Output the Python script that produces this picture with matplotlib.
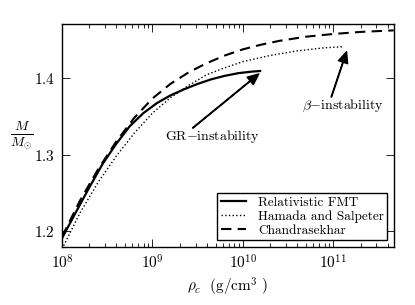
import matplotlib
matplotlib.use("Agg")
import matplotlib.pyplot as plt
from matplotlib.ticker import FixedLocator, NullLocator

plt.rcParams["font.family"] = "serif"
plt.rcParams["font.serif"] = ["cmr10", "DejaVu Serif"]
plt.rcParams["mathtext.fontset"] = "cm"
plt.rcParams["axes.formatter.use_mathtext"] = True
plt.rcParams["axes.unicode_minus"] = False

# ==========================================================
# DADOS
# ==========================================================
rho_fmt = [1.0e8, 1.41e8, 2.0e8, 2.82e8, 3.98e8, 5.62e8, 7.94e8, 1.12e9,
           1.58e9, 2.24e9, 3.16e9, 4.47e9, 6.31e9, 8.91e9, 1.26e10, 1.55e10]
m_fmt = [1.191, 1.224, 1.257, 1.288, 1.314, 1.337, 1.354, 1.367,
         1.377, 1.385, 1.392, 1.398, 1.4025, 1.406, 1.408, 1.4088]

rho_hs = [1.0e8, 1.58e8, 2.51e8, 3.98e8, 6.31e8, 1.0e9, 1.58e9, 2.51e9,
          3.98e9, 6.31e9, 1.0e10, 2.0e10, 3.98e10, 7.94e10, 1.32e11]
m_hs = [1.177, 1.224, 1.264, 1.298, 1.328, 1.354, 1.374, 1.390,
        1.404, 1.413, 1.421, 1.429, 1.435, 1.439, 1.4405]

rho_ch = [1.0e8, 1.58e8, 2.51e8, 3.98e8, 6.31e8, 1.0e9, 1.58e9, 2.51e9,
          3.98e9, 6.31e9, 1.0e10, 1.58e10, 2.51e10, 5.01e10, 1.0e11,
          2.0e11, 4.65e11]
m_ch = [1.193, 1.240, 1.281, 1.317, 1.348, 1.373, 1.392, 1.407,
        1.419, 1.429, 1.437, 1.443, 1.448, 1.4535, 1.457,
        1.4597, 1.4617]

labels = ["Relativistic FMT", "Hamada and Salpeter", "Chandrasekhar"]

gr_tip = (1.5e10, 1.405)
gr_tail = (2.79e9, 1.3346)
gr_text = (4.58e9, 1.3195)
beta_tip = (1.4e11, 1.434)
beta_tail = (9.5e10, 1.3749)
beta_text = (1.28e11, 1.3597)

# ==========================================================
# FIGURA
# ==========================================================
fig = plt.figure(figsize=(4.15, 3.05), dpi=100)
ax = fig.add_axes([0.1494, 0.1911, 0.7993, 0.7302])

ax.plot(rho_fmt, m_fmt, "k-", lw=1.6, label=labels[0])
ax.plot(rho_hs, m_hs, "k:", lw=1.0, label=labels[1])
ax.plot(rho_ch, m_ch, "k--", lw=1.5, dashes=(5, 3), label=labels[2])

ax.set_xscale("log")
ax.set_xlim(1e8, 4.65e11)
ax.set_ylim(1.18, 1.47)
ax.yaxis.set_major_locator(FixedLocator([1.2, 1.3, 1.4]))
ax.yaxis.set_minor_locator(NullLocator())

ax.tick_params(which="both", direction="in", top=True, right=True,
               labelsize=11, width=0.6)
ax.tick_params(which="major", length=6, pad=5)
ax.tick_params(which="minor", length=3)
for sp in ax.spines.values():
    sp.set_linewidth(1.0)

ax.set_xlabel(r"$\rho_c\ \ ({\rm g/cm^3}\ )$", fontsize=11, labelpad=3)
ax.set_ylabel(r"$\frac{M}{M_{\odot}}$", fontsize=14, rotation=0,
              labelpad=9, va="center")

arrow = dict(facecolor="black", edgecolor="black", width=0.4,
             headwidth=7, headlength=8, shrink=0.0)
ax.annotate("", xy=gr_tip, xytext=gr_tail, arrowprops=arrow)
ax.annotate("", xy=beta_tip, xytext=beta_tail, arrowprops=arrow)
ax.text(*gr_text, "GR$-$instability", fontsize=10, ha="center", va="baseline")
ax.text(*beta_text, r"$\beta{-}$instability", fontsize=10, ha="center",
        va="baseline")

leg = ax.legend(loc="lower right", fontsize=9.6, fancybox=False,
                edgecolor="black", framealpha=1, handlelength=1.9,
                handletextpad=0.9, labelspacing=0.1, borderpad=0.25,
                borderaxespad=0.5)
leg.get_frame().set_linewidth(1.0)

fig.savefig("out.png", dpi=100)
plt.close(fig)
